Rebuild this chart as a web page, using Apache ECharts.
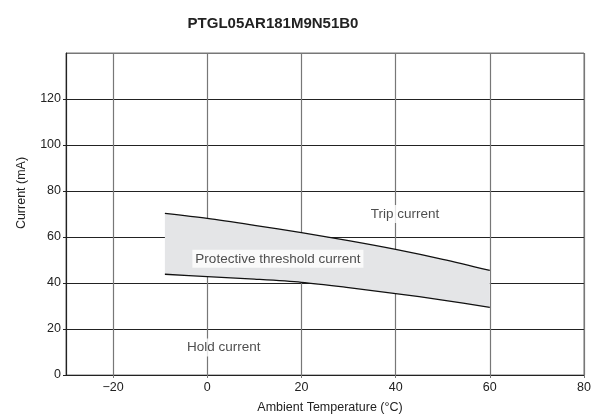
<!DOCTYPE html>
<html>
<head>
<meta charset="utf-8">
<script src="https://cdn.jsdelivr.net/npm/echarts@6/dist/echarts.min.js"></script>
<style>html,body{margin:0;padding:0;background:#fff}#c{width:601px;height:414px}</style>
</head>
<body>
<div id="c"></div>
<script>
var temps = [-9, 0, 10, 20, 30, 40, 50, 60];
var tripCurrent = [70.3, 68.1, 65.1, 61.9, 58.4, 54.6, 50.3, 45.5];
var holdCurrent = [43.8, 42.8, 41.7, 40.3, 38.0, 35.4, 32.6, 29.4];
var xTicks = [-20, 0, 20, 40, 60, 80];
var yTicks = [0, 20, 40, 60, 80, 100, 120];
var annotations = [
  {text: 'Trip current', at: [42, 70]},
  {text: 'Protective threshold current', at: [15, 50.5]},
  {text: 'Hold current', at: [3.5, 12]}
];

var FONT = '"Liberation Sans", Arial, sans-serif';
var chart = echarts.init(document.getElementById('c'));
var holdPts = temps.map(function (t, i) { return [t, holdCurrent[i]]; });
var tripPts = temps.map(function (t, i) { return [t, tripCurrent[i]]; });

chart.setOption({
  animation: false,
  backgroundColor: '#fff',
  title: {
    text: 'PTGL05AR181M9N51B0',
    left: 268, top: 11, textAlign: 'center',
    textStyle: {fontFamily: FONT, fontSize: 15, fontWeight: 'bold', color: '#222'}
  },
  grid: {left: 66, right: 17, top: 53, bottom: 39, show: true, borderColor: '#777', borderWidth: 1,
    containLabel: false, outerBoundsMode: 'none'},
  xAxis: {
    type: 'value', min: -30, max: 80,
    name: 'Ambient Temperature (°C)', nameLocation: 'middle', nameGap: 26,
    nameTextStyle: {fontFamily: FONT, fontSize: 12.5, color: '#222', padding: [0, 0, 0, 10]},
    axisLine: {show: true, onZero: false, lineStyle: {color: '#222', width: 1.2}},
    axisTick: {show: true, length: 3, customValues: xTicks, lineStyle: {color: '#777'}},
    axisLabel: {customValues: xTicks, fontFamily: FONT, fontSize: 12.5, color: '#222', margin: 6,
      formatter: function (v) { return v < 0 ? '\u2212' + Math.abs(v) : String(v); }},
    splitLine: {show: true, lineStyle: {color: '#777', width: 1.2}}
  },
  yAxis: {
    type: 'value', min: 0, max: 140, interval: 20,
    name: 'Current (mA)', nameLocation: 'middle', nameGap: 38, nameRotate: 90,
    nameTextStyle: {fontFamily: FONT, fontSize: 12.5, color: '#222', padding: [0, 0, 0, 42]},
    axisLine: {show: true, onZero: false, lineStyle: {color: '#222', width: 1.2}},
    axisTick: {show: true, length: 3, lineStyle: {color: '#222'}},
    axisLabel: {fontFamily: FONT, fontSize: 12.5, color: '#222', margin: 5, showMaxLabel: false,
      formatter: function (v) { return v === 140 ? '' : String(v); }},
    splitLine: {show: true, lineStyle: {color: ['#222', '#222', '#222', '#222', '#222', '#222', '#222', '#777'], width: 1}}
  },
  series: [
    {type: 'custom', z: 2, silent: true, data: [0],
      renderItem: function (params, api) {
        var pts = [];
        for (var i = 0; i < temps.length; i++) pts.push(api.coord([temps[i], tripCurrent[i]]));
        for (var j = temps.length - 1; j >= 0; j--) pts.push(api.coord([temps[j], holdCurrent[j]]));
        return {type: 'polygon', shape: {points: pts, smooth: 0}, style: {fill: '#e4e5e7'}};
      }},
    {type: 'line', data: tripPts, symbol: 'none', smooth: 0.3,
      lineStyle: {color: '#111', width: 1.3}, z: 4},
    {type: 'line', data: holdPts, symbol: 'none', smooth: 0.3,
      lineStyle: {color: '#111', width: 1.3}, z: 4},
    {type: 'scatter', symbolSize: 0, z: 6,
      data: annotations.map(function (a) { return {value: a.at, name: a.text}; }),
      label: {show: true, position: 'inside', formatter: '{b}', fontFamily: FONT, fontSize: 13.5,
        color: '#222', backgroundColor: '#fff', padding: [2, 3]}}
  ]
});
</script>
</body>
</html>
